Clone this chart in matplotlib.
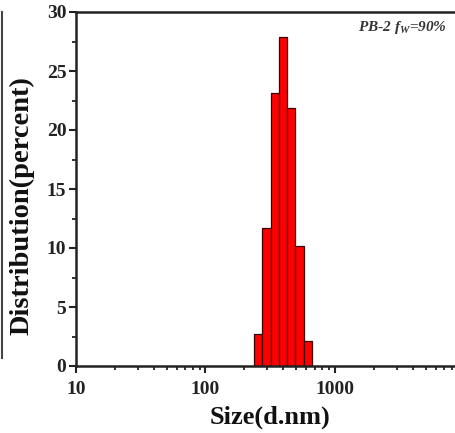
import numpy as np
import matplotlib
matplotlib.use("Agg")
import matplotlib.pyplot as plt
from matplotlib.ticker import LogLocator, FixedLocator, NullFormatter
from matplotlib.lines import Line2D

# Data (Malvern-style size bins, d.nm) and intensity distribution (%)
sizes = [255.0, 295.3, 342.0, 396.1, 458.7, 531.2, 615.1]
percent = [2.7, 11.7, 23.1, 27.9, 21.9, 10.2, 2.1]
x_ticks = [10, 100, 1000]
x_ticklabels = ["10", "100", "1000"]
y_ticks = [0, 5, 10, 15, 20, 25, 30]
label_text = r"$\mathbfit{PB}$-$\mathbfit{2}$ $\mathbfit{f}_{\mathbfit{W}}$=$\mathbfit{90\%}$"

plt.rcParams['font.family'] = ['Liberation Serif', 'DejaVu Serif']
plt.rcParams['mathtext.fontset'] = 'custom'
plt.rcParams['mathtext.it'] = 'Liberation Serif:italic:bold'
plt.rcParams['mathtext.bfit'] = 'Liberation Serif:italic:bold'
plt.rcParams['mathtext.bf'] = 'Liberation Serif:bold'
plt.rcParams['mathtext.rm'] = 'Liberation Serif:bold'

W, H = 455, 433
fig = plt.figure(figsize=(W / 100, H / 100), dpi=100)
x0, x1 = 76, 464.5
y0, y1 = 366, 12
ax = fig.add_axes([x0 / W, 1 - y0 / H, (x1 - x0) / W, (y0 - y1) / H])

centers = np.array(sizes)
r = centers[1] / centers[0]
left = centers / np.sqrt(r)
right = centers * np.sqrt(r)
ax.bar(left, percent, width=right - left, align='edge', color='#ff0000',
       edgecolor='#3a0000', linewidth=0.9, zorder=2)

ax.set_xscale('log')
ax.set_xlim(10, 10000)
ax.set_ylim(0, 30)
ax.set_xticks(x_ticks + [10000])
ax.set_xticklabels(x_ticklabels + [""])
ax.xaxis.set_minor_locator(LogLocator(base=10, subs=np.arange(2, 10)))
ax.xaxis.set_minor_formatter(NullFormatter())
ax.set_yticks(y_ticks)
ax.yaxis.set_minor_locator(FixedLocator(np.arange(2.5, 30, 5)))

for s in ax.spines.values():
    s.set_linewidth(1.8)
    s.set_color('#222222')

ax.tick_params(which='major', direction='out', length=5, width=1.5, labelsize=14,
               color='#222222')
ax.tick_params(axis='y', which='major', pad=2)
ax.tick_params(axis='x', which='major', pad=6)
ax.tick_params(which='minor', direction='out', length=3, width=1.3, color='#222222')
for lab in ax.get_xticklabels() + ax.get_yticklabels():
    lab.set_fontweight('bold')
    lab.set_color('#222222')

ax.set_xlabel('Size(d.nm)', fontsize=19, fontweight='bold', labelpad=5, color='#111111')
ax.set_ylabel('Distribution(percent)', fontsize=20.5, fontweight='bold', color='#111111')
ax.yaxis.set_label_coords(-0.106, 0.452)

fig.text(447 / W, 1 - 28 / H, label_text, fontsize=11, ha='right', va='center',
         color='#333333')

# fragment of neighbouring panel frame at the left edge
fig.add_artist(Line2D([2 / W, 2 / W], [1 - 12 / H, 1 - 358 / H], transform=fig.transFigure,
                      color='#444444', linewidth=1.5))

fig.savefig('out.png', dpi=100)
